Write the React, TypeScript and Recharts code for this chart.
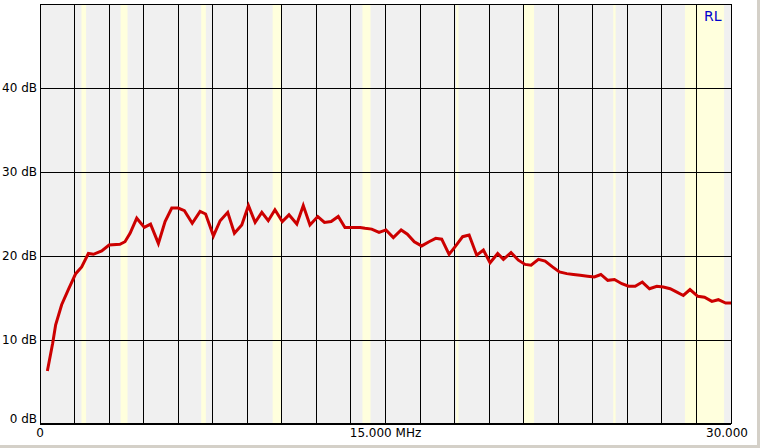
import React from 'react';
import {
  LineChart,
  Line,
  XAxis,
  YAxis,
  CartesianGrid,
  ReferenceArea,
} from 'recharts';

const freqs = [
  0.32, 0.55, 0.68, 0.94, 1.23, 1.55, 1.81, 2.1, 2.32, 2.68, 3.0, 3.47, 3.69, 3.91, 4.2,
  4.53, 4.8, 5.14, 5.43, 5.72, 6.0, 6.27, 6.61, 6.95, 7.19, 7.53, 7.82, 8.15, 8.44, 8.76,
  9.05, 9.34, 9.63, 9.91, 10.2, 10.52, 10.81, 11.15, 11.43, 11.72, 12.06, 12.35, 12.64,
  12.95, 13.24, 13.53, 13.9, 14.11, 14.4, 14.72, 15.02, 15.34, 15.68, 15.95, 16.25, 16.57,
  16.89, 17.18, 17.44, 17.76, 18.05, 18.35, 18.63, 18.96, 19.25, 19.54, 19.87, 20.12,
  20.45, 20.77, 21.06, 21.32, 21.64, 21.93, 22.25, 22.55, 22.87, 23.16, 23.45, 23.77,
  24.07, 24.35, 24.65, 24.94, 25.26, 25.55, 25.84, 26.15, 26.46, 26.78, 27.06, 27.36,
  27.65, 27.93, 28.22, 28.56, 28.85, 29.17, 29.45, 29.77, 30.0,
];
const returnLoss = [
  6.3, 9.6, 11.8, 14.2, 16.0, 17.9, 18.7, 20.3, 20.2, 20.6, 21.3, 21.4, 21.7, 22.7, 24.5,
  23.4, 23.8, 21.5, 24.1, 25.7, 25.7, 25.4, 23.9, 25.3, 25.0, 22.4, 24.2, 25.2, 22.7, 23.7,
  26.0, 24.0, 25.2, 24.2, 25.5, 24.1, 24.9, 23.8, 26.0, 23.7, 24.7, 24.0, 24.1,
  24.7, 23.4, 23.4, 23.4, 23.3, 23.2, 22.8, 23.1, 22.2, 23.1, 22.6, 21.7, 21.2,
  21.7, 22.1, 22.0, 20.2, 21.2, 22.3, 22.5, 20.1, 20.7, 19.2, 20.3, 19.6,
  20.4, 19.5, 19.0, 18.9, 19.6, 19.4, 18.7, 18.1, 17.9, 17.8, 17.7, 17.6,
  17.5, 17.8, 17.1, 17.2, 16.7, 16.4, 16.4, 16.9, 16.1, 16.4, 16.3, 16.1,
  15.7, 15.3, 16.0, 15.2, 15.1, 14.6, 14.8, 14.4, 14.4,
];

// ham bands shaded in yellow [start, end] MHz
const hamBands = [
  [1.8, 2.0],
  [3.5, 3.8],
  [7.0, 7.2],
  [10.1, 10.5],
  [14.0, 14.35],
  [18.068, 18.168],
  [21.0, 21.45],
  [24.89, 24.99],
  [28.0, 29.7],
];

const xTicks = [0, 15, 30];
const xTickLabels = ['0', '15.000 MHz', '30.000'];
const yTicks = [0, 10, 20, 30, 40];
const vGrid = [1.5, 3, 4.5, 6, 7.5, 9, 10.5, 12, 13.5, 15, 16.5, 18, 19.5, 21, 22.5, 24, 25.5, 27, 28.5, 30];
const hGrid = [10, 20, 30, 40, 50];

const data = freqs.map((f, i) => ({ f, rl: returnLoss[i] }));

const FONT = '"DejaVu Sans", sans-serif';

const YTick = (props: any) => {
  const { x, y, payload } = props;
  const shift = payload.value === 0 ? -5 : 0;
  return (
    <text x={x} y={y + shift} dy="0.355em" textAnchor="end" fontSize={12} fontFamily={FONT} fill="#000">
      {payload.value} dB
    </text>
  );
};

const XTick = (props: any) => {
  const { x, y, payload } = props;
  const idx = xTicks.indexOf(payload.value);
  const dx = payload.value === 30 ? -4 : 0;
  return (
    <text x={x + dx} y={y} dy="0.71em" textAnchor="middle" fontSize={12} fontFamily={FONT} fill="#000">
      {xTickLabels[idx]}
    </text>
  );
};

export default function App() {
  return (
    <div
      style={{
        position: 'fixed',
        left: 0,
        top: 0,
        width: 760,
        height: 448,
        background: '#fff',
        boxSizing: 'border-box',
        borderRight: '3px solid #D4D0C8',
        borderBottom: '3px solid #D4D0C8',
        fontFamily: FONT,
      }}
    >
      <LineChart
        width={757}
        height={445}
        data={data}
        margin={{ top: 4, right: 26, left: 0, bottom: 1 }}
      >
        <ReferenceArea x1={0} x2={30} y1={0} y2={50} fill="#F0F0F0" fillOpacity={1} stroke="none" zIndex={-300} />
        {hamBands.map(([a, b], i) => (
          <ReferenceArea key={i} x1={a} x2={b} y1={0} y2={50} fill="#FFFFDD" fillOpacity={1} stroke="none" zIndex={-200} />
        ))}
        <CartesianGrid
          stroke="#000"
          strokeWidth={1}
          verticalValues={vGrid}
          horizontalValues={hGrid}
          shapeRendering="crispEdges"
          zIndex={-100}
        />
        <XAxis
          dataKey="f"
          type="number"
          domain={[0, 30]}
          ticks={xTicks}
          interval={0}
          height={20}
          tickLine={false}
          tickSize={0}
          tickMargin={4}
          axisLine={{ stroke: '#000', strokeWidth: 2, shapeRendering: 'crispEdges' }}
          tick={<XTick />}
        />
        <YAxis
          type="number"
          domain={[0, 50]}
          ticks={yTicks}
          interval={0}
          width={40}
          tickLine={false}
          tickSize={0}
          tickMargin={3}
          axisLine={{ stroke: '#000', strokeWidth: 1, shapeRendering: 'crispEdges' }}
          tick={<YTick />}
        />
        <Line
          type="linear"
          dataKey="rl"
          stroke="#CC0000"
          strokeWidth={3}
          dot={false}
          isAnimationActive={false}
        />
      </LineChart>
      <div
        style={{
          position: 'absolute',
          left: 704,
          top: 8,
          fontSize: 14,
          color: '#0000CC',
          fontFamily: FONT,
        }}
      >
        RL
      </div>
    </div>
  );
}
